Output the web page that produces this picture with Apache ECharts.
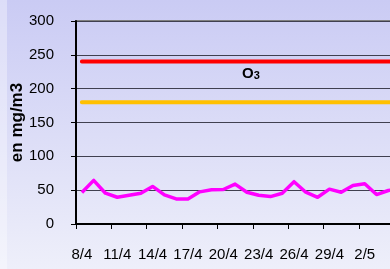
<!DOCTYPE html>
<html>
<head>
<meta charset="utf-8">
<script src="https://cdn.jsdelivr.net/npm/echarts@6/dist/echarts.min.js"></script>
<style>
  html, body { margin: 0; padding: 0; }
  #container { width: 390px; height: 269px; }
</style>
</head>
<body>
<div id="container"></div>
<script>
var days = ['8/4', '9/4', '10/4', '11/4', '12/4', '13/4', '14/4', '15/4', '16/4', '17/4',
  '18/4', '19/4', '20/4', '21/4', '22/4', '23/4', '24/4', '25/4', '26/4', '27/4',
  '28/4', '29/4', '30/4', '1/5', '2/5', '3/5', '4/5', '5/5'];
var o3 = [46.5, 64.5, 45.5, 39.5, 42.5, 45.5, 55.5, 43, 37, 37,
  47.5, 50.5, 51, 59, 47, 42.5, 40.5, 45.5, 62.5, 47,
  39.5, 51.5, 47, 57, 59.5, 43.5, 49.5, 52];
var limitRed = [240, 240, 240, 240, 240, 240, 240, 240, 240, 240,
  240, 240, 240, 240, 240, 240, 240, 240, 240, 240,
  240, 240, 240, 240, 240, 240, 240, 240];
var limitOrange = [180, 180, 180, 180, 180, 180, 180, 180, 180, 180,
  180, 180, 180, 180, 180, 180, 180, 180, 180, 180,
  180, 180, 180, 180, 180, 180, 180, 180];
var labelIndex = 14;

var myChart = echarts.init(document.getElementById('container'));

var option = {
  animation: false,
  backgroundColor: new echarts.graphic.LinearGradient(0, 0, 0, 1, [
    { offset: 0, color: '#cacbf4' },
    { offset: 1, color: '#eeeffa' }
  ]),
  graphic: [{
    type: 'rect',
    left: 0, top: 0,
    shape: { width: 7, height: 269 },
    style: { fill: 'rgba(255,255,255,0.35)' },
    silent: true
  }],
  grid: {
    left: 76,
    top: 21,
    bottom: 45,
    right: -16,
    outerBoundsMode: 'none',
    containLabel: false,
    show: true,
    borderColor: '#808080',
    borderWidth: 2
  },
  xAxis: {
    type: 'category',
    data: days,
    boundaryGap: true,
    axisLine: { lineStyle: { color: '#000', width: 2 } },
    axisTick: { show: true, interval: 2, length: 5, lineStyle: { color: '#000' } },
    axisLabel: {
      interval: 2,
      margin: 23,
      color: '#000',
      fontSize: 15,
      fontFamily: 'Liberation Sans'
    },
    splitLine: { show: false }
  },
  yAxis: {
    type: 'value',
    min: 0,
    max: 300,
    interval: 50,
    name: 'en mg/m3',
    nameLocation: 'middle',
    nameGap: 50,
    nameMoveOverlap: false,
    nameRotate: 90,
    nameTextStyle: { fontSize: 17, fontWeight: 'bold', color: '#000', fontFamily: 'Liberation Sans' },
    axisLine: { show: true, lineStyle: { color: '#000', width: 2 } },
    axisTick: { show: true, length: 5, lineStyle: { color: '#000' } },
    axisLabel: { margin: 22, color: '#000', fontSize: 15, fontFamily: 'Liberation Sans' },
    splitLine: { show: true, lineStyle: { color: '#404050', width: 1 } }
  },
  series: [
    {
      name: 'rouge',
      type: 'line',
      data: limitRed,
      symbol: 'none',
      lineStyle: { color: '#ff0000', width: 4, cap: 'round' },
      z: 3,
      // etiquette O3 sous la ligne rouge
      markPoint: {
        symbol: 'circle',
        symbolSize: 0,
        silent: true,
        data: [{ coord: [days[labelIndex], limitRed[labelIndex]] }],
        label: {
          show: true,
          position: 'bottom',
          distance: 5,
          offset: [4, 0],
          formatter: '{o|O}{s|3}',
          rich: {
            o: { fontSize: 15, fontWeight: 'bold', color: '#000', fontFamily: 'Liberation Sans' },
            s: { fontSize: 11, fontWeight: 'bold', color: '#000', fontFamily: 'Liberation Sans', padding: [3, 0, 0, 0] }
          }
        }
      }
    },
    {
      name: 'orange',
      type: 'line',
      data: limitOrange,
      symbol: 'none',
      lineStyle: { color: '#ffc000', width: 4, cap: 'round' },
      z: 3
    },
    {
      name: 'O3',
      type: 'line',
      data: o3,
      symbol: 'none',
      lineStyle: { color: '#ff00ff', width: 3.5, join: 'round' },
      z: 4
    }
  ]
};
myChart.setOption(option);
</script>
</body>
</html>
